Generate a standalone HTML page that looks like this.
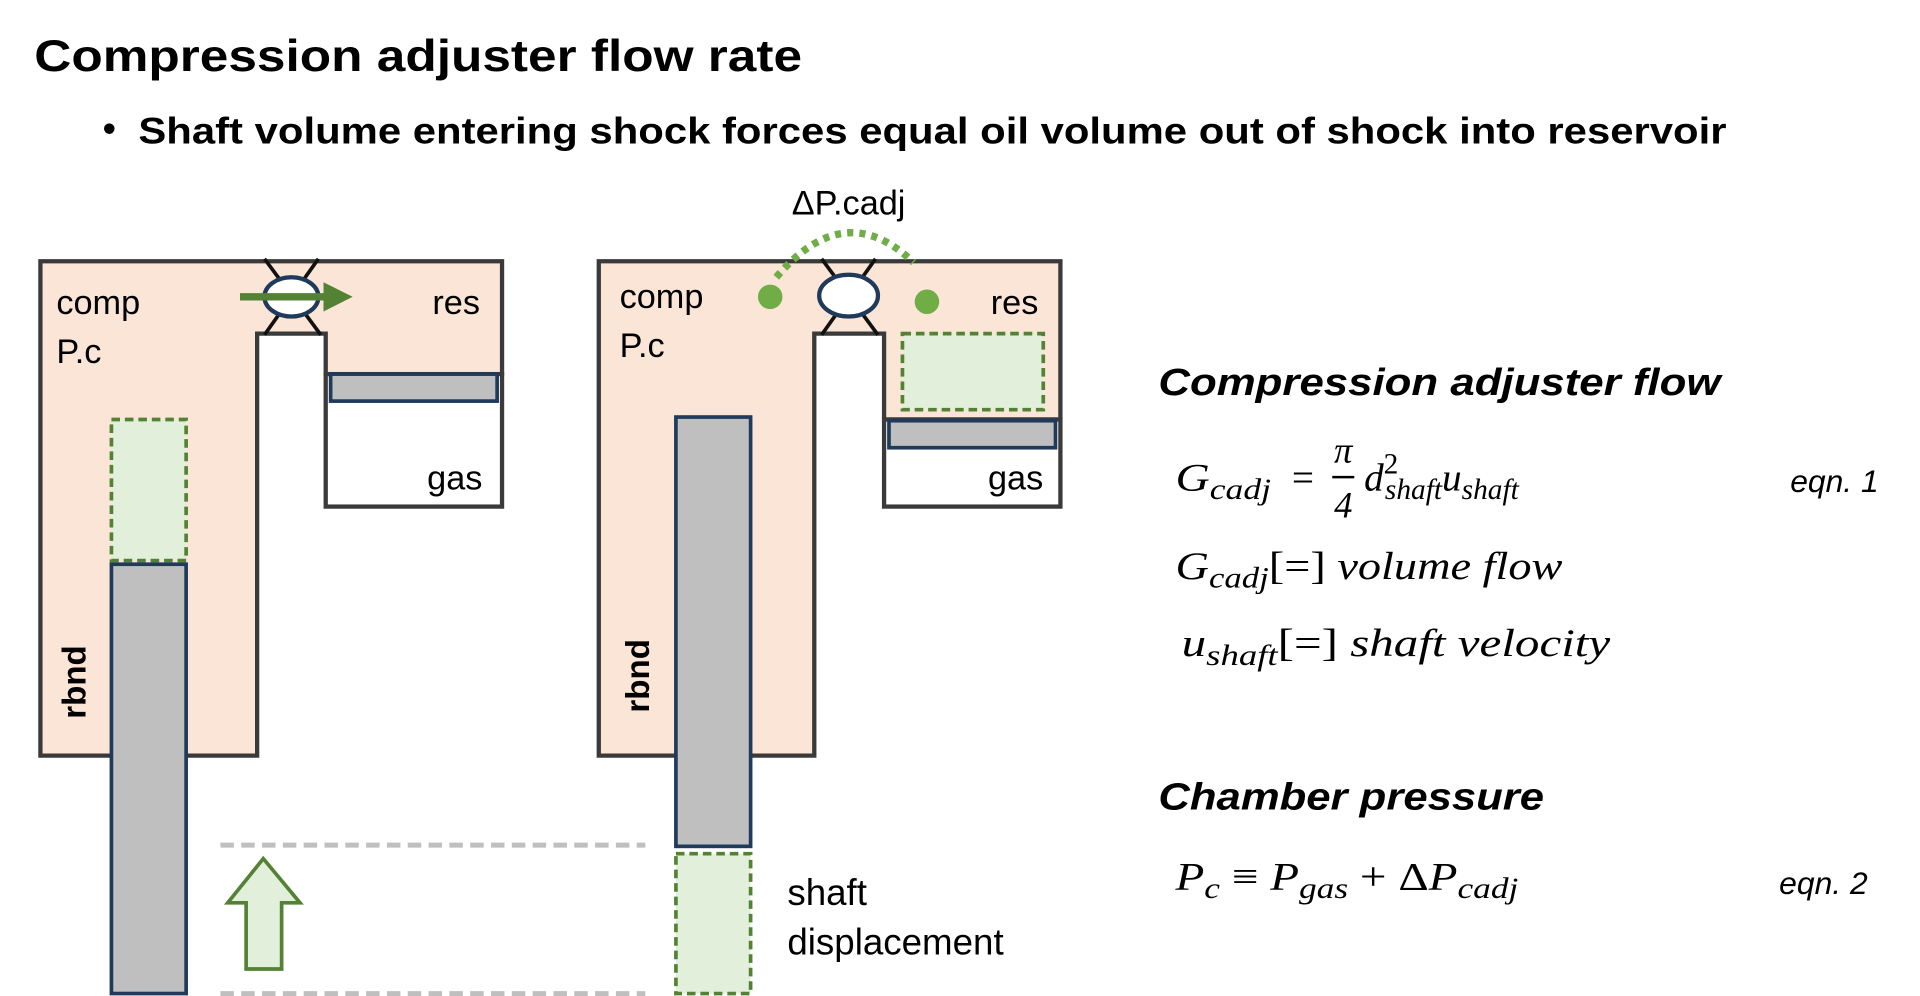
<!DOCTYPE html>
<html><head><meta charset="utf-8"><style>
html,body{margin:0;padding:0;background:#fff;width:1920px;height:996px;overflow:hidden}
svg{display:block}
.s{font-family:"Liberation Sans",sans-serif}
.m{font-family:"Liberation Serif",serif;font-style:italic}
</style></head><body>
<svg width="1920" height="996" viewBox="0 0 1568 812" preserveAspectRatio="none" xmlns="http://www.w3.org/2000/svg">
<defs>
<marker id="ah" markerWidth="4" markerHeight="4" refX="2" refY="2" orient="auto" markerUnits="strokeWidth">
<path d="M0,0 L4,2 L0,4 z" fill="#548235"/></marker>
</defs>
<text class="s" x="28" y="58" font-size="36" font-weight="bold" textLength="627" lengthAdjust="spacingAndGlyphs">Compression adjuster flow rate</text>
<text class="s" x="84" y="115" font-size="30" font-weight="bold">•</text>
<text class="s" x="113" y="117" font-size="30" font-weight="bold" textLength="1297" lengthAdjust="spacingAndGlyphs">Shaft volume entering shock forces equal oil volume out of shock into reservoir</text>

<!-- left shock -->
<polygon points="33,213 410,213 410,305 266,305 266,272 210,272 210,616 33,616" fill="#fbe5d6" stroke="#3a3a3a" stroke-width="3.5"/>
<rect x="266" y="305" width="144" height="108" fill="#fff" stroke="#3a3a3a" stroke-width="3.5"/>
<rect x="270" y="305" width="136" height="22" fill="#bfbfbf" stroke="#1f3a5a" stroke-width="3"/>
<rect x="91" y="342" width="61" height="115" fill="#e2efda" stroke="#548235" stroke-width="3" stroke-dasharray="7,4"/>
<rect x="91" y="460" width="61" height="350" fill="#bfbfbf" stroke="#1f3a5a" stroke-width="3"/>
<line x1="216" y1="211" x2="262" y2="273" stroke="#111" stroke-width="3"/>
<line x1="260" y1="211" x2="216" y2="273" stroke="#111" stroke-width="3"/>
<ellipse cx="238" cy="242" rx="22" ry="16" fill="#fff" stroke="#1f3a5a" stroke-width="3.5"/>
<line x1="196" y1="242" x2="276" y2="242" stroke="#548235" stroke-width="6" marker-end="url(#ah)"/>
<text class="s" x="46" y="256" font-size="28">comp</text>
<text class="s" x="46" y="296" font-size="28">P.c</text>
<text class="s" x="392" y="256" font-size="28" text-anchor="end">res</text>
<text class="s" x="394" y="399" font-size="28" text-anchor="end">gas</text>
<text class="s" transform="translate(70,556) rotate(-90)" font-size="27" font-weight="bold" text-anchor="middle">rbnd</text>

<!-- right shock -->
<polygon points="489,213 866,213 866,342 722,342 722,272 665,272 665,616 489,616" fill="#fbe5d6" stroke="#3a3a3a" stroke-width="3.5"/>
<rect x="722" y="342" width="144" height="71" fill="#fff" stroke="#3a3a3a" stroke-width="3.5"/>
<rect x="726" y="343" width="136" height="22" fill="#bfbfbf" stroke="#1f3a5a" stroke-width="3"/>
<rect x="737" y="272" width="115" height="62" fill="#e2efda" stroke="#548235" stroke-width="3" stroke-dasharray="7,4"/>
<rect x="552" y="340" width="61" height="350" fill="#bfbfbf" stroke="#1f3a5a" stroke-width="3"/>
<rect x="552" y="696" width="61" height="114" fill="#e2efda" stroke="#548235" stroke-width="3" stroke-dasharray="7,4"/>
<line x1="671" y1="211" x2="717" y2="273" stroke="#111" stroke-width="3"/>
<line x1="715" y1="211" x2="671" y2="273" stroke="#111" stroke-width="3"/>
<ellipse cx="693" cy="241" rx="24" ry="17" fill="#fff" stroke="#1f3a5a" stroke-width="3.5"/>
<path d="M634,226 Q690,160 746,214" fill="none" stroke="#70ad47" stroke-width="6" stroke-dasharray="5,5"/>
<circle cx="629" cy="242" r="10" fill="#70ad47"/>
<circle cx="757" cy="246" r="10" fill="#70ad47"/>
<text class="s" x="693" y="175" font-size="28" text-anchor="middle">ΔP.cadj</text>
<text class="s" x="506" y="251" font-size="28">comp</text>
<text class="s" x="506" y="291" font-size="28">P.c</text>
<text class="s" x="848" y="256" font-size="28" text-anchor="end">res</text>
<text class="s" x="852" y="399" font-size="28" text-anchor="end">gas</text>
<text class="s" transform="translate(530,551) rotate(-90)" font-size="27" font-weight="bold" text-anchor="middle">rbnd</text>

<line x1="180" y1="689" x2="527" y2="689" stroke="#bfbfbf" stroke-width="4" stroke-dasharray="11,6"/>
<line x1="180" y1="810" x2="527" y2="810" stroke="#bfbfbf" stroke-width="4" stroke-dasharray="11,6"/>
<polygon points="215,700 186,736 201,736 201,790 230,790 230,736 245,736" fill="#e2efda" stroke="#548235" stroke-width="3"/>
<text class="s" x="643" y="738" font-size="30">shaft</text>
<text class="s" x="643" y="778" font-size="30">displacement</text>

<!-- equations -->
<text class="s" x="946" y="322" font-size="31" font-weight="bold" font-style="italic" textLength="459" lengthAdjust="spacingAndGlyphs">Compression adjuster flow</text>
<text class="m" x="960" y="400" font-size="32" textLength="78" lengthAdjust="spacingAndGlyphs">G<tspan font-size="24" dy="7">cadj</tspan></text>
<text class="m" x="1053" y="400" font-size="32" font-style="normal">=</text>
<text class="m" x="1097" y="377" font-size="30" text-anchor="middle">π</text>
<line x1="1088" y1="389" x2="1106" y2="389" stroke="#000" stroke-width="2"/>
<text class="m" x="1097" y="422" font-size="30" text-anchor="middle" font-style="normal">4</text>
<text class="m" x="1114" y="400" font-size="32">d<tspan font-size="24" dy="-14" font-style="normal">2</tspan><tspan font-size="24" dx="-11" dy="21">shaft</tspan><tspan dy="-7">u</tspan><tspan font-size="24" dy="7">shaft</tspan></text>
<text class="s" x="1462" y="401" font-size="26" font-style="italic">eqn. 1</text>
<text class="m" x="960" y="472" font-size="32" textLength="316" lengthAdjust="spacingAndGlyphs">G<tspan font-size="24" dy="7">cadj</tspan><tspan dy="-7" font-style="normal">[=]</tspan> volume flow</text>
<text class="m" x="965" y="535" font-size="32" textLength="350" lengthAdjust="spacingAndGlyphs">u<tspan font-size="24" dy="7">shaft</tspan><tspan dy="-7" font-style="normal">[=]</tspan> shaft velocity</text>
<text class="s" x="946" y="660" font-size="31" font-weight="bold" font-style="italic" textLength="315" lengthAdjust="spacingAndGlyphs">Chamber pressure</text>
<text class="m" x="960" y="725" font-size="32" textLength="280" lengthAdjust="spacingAndGlyphs">P<tspan font-size="24" dy="7">c</tspan><tspan dy="-7" font-style="normal"> ≡ </tspan>P<tspan font-size="24" dy="7">gas</tspan><tspan dy="-7" font-style="normal"> + Δ</tspan>P<tspan font-size="24" dy="7">cadj</tspan></text>
<text class="s" x="1453" y="729" font-size="26" font-style="italic">eqn. 2</text>
</svg>
</body></html>
